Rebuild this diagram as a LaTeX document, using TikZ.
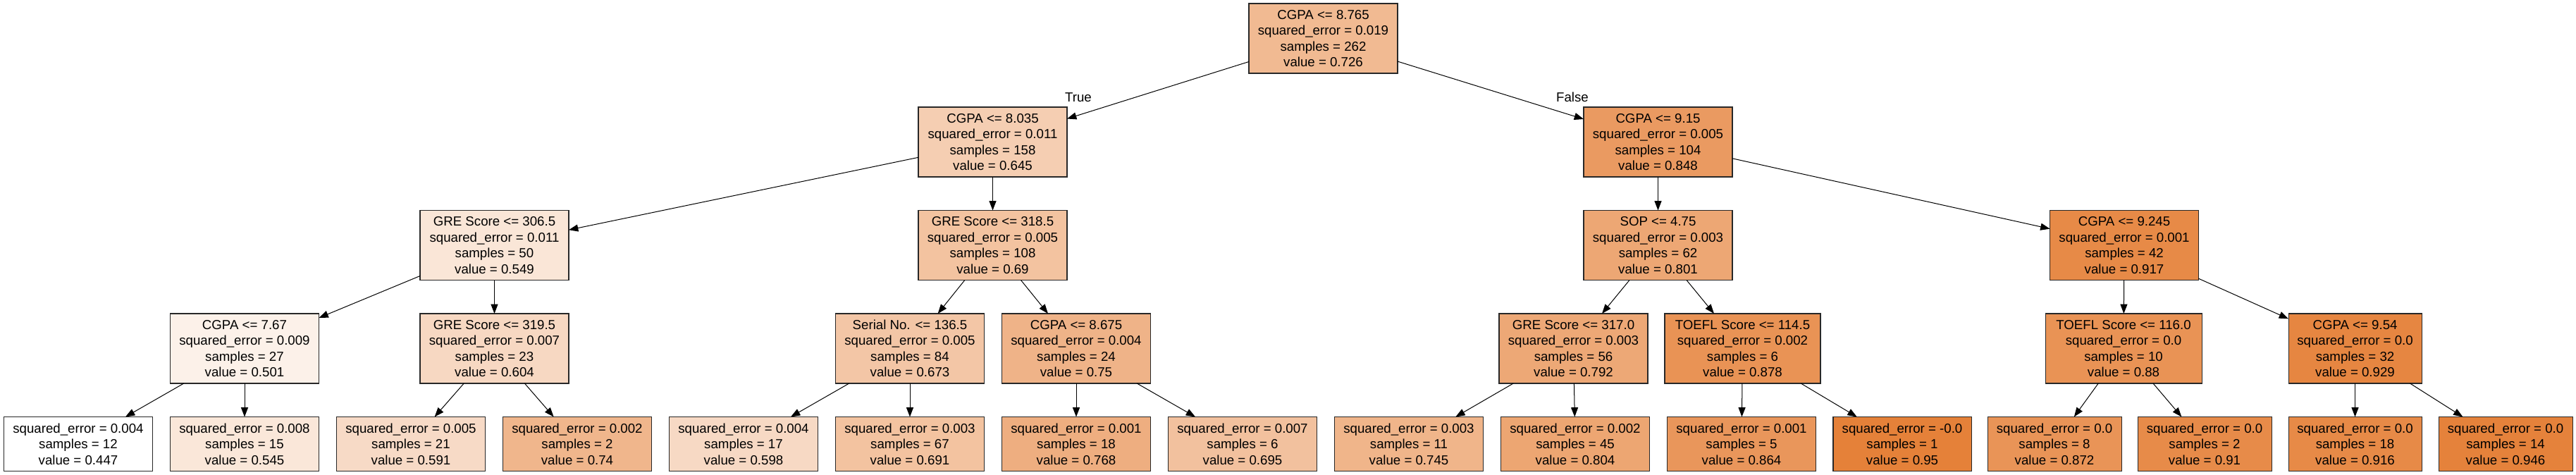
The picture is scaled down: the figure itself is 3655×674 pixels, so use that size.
\documentclass[tikz,border=0pt]{standalone}
\usepackage{fontspec}
\setmainfont{Liberation Sans}
\usetikzlibrary{arrows.meta}
\definecolor{org}{RGB}{229,129,57}
\definecolor{bord}{RGB}{40,40,40}
\tikzset{
  tn/.style={draw=bord, line width=0.8pt, rectangle, align=center, inner sep=0pt, outer sep=0pt,
    minimum height=74.25pt, font=\fontsize{14}{16.8}\selectfont},
  lf/.style={tn, minimum height=57.75pt},
  edge/.style={-{Triangle[length=10pt,width=7.5pt]}, line width=0.75pt, black},
  elab/.style={font=\fontsize{14}{16.8}\selectfont, inner sep=0pt}
}
\newcommand\tnode[7]{\node[#1, minimum width=#5*0.75pt, fill=org!#6!white] (#2) at (#3,#4) {#7};}
\begin{document}
\begin{tikzpicture}[x=0.75pt,y=-0.75pt]
\useasboundingbox (0,0) rectangle (3655,674);
% level 0
\tnode{tn}{n0}{1877.5}{54.5}{211}{55}{CGPA <= 8.765\\squared\_error = 0.019\\samples = 262\\value = 0.726}
% level 1
\tnode{tn}{n1}{1408.5}{201.5}{211}{39}{CGPA <= 8.035\\squared\_error = 0.011\\samples = 158\\value = 0.645}
\tnode{tn}{n16}{2352.5}{201.5}{211}{80}{CGPA <= 9.15\\squared\_error = 0.005\\samples = 104\\value = 0.848}
% level 2
\tnode{tn}{n2}{701.5}{348}{211}{20}{GRE Score <= 306.5\\squared\_error = 0.011\\samples = 50\\value = 0.549}
\tnode{tn}{n9}{1408.5}{348}{211}{48}{GRE Score <= 318.5\\squared\_error = 0.005\\samples = 108\\value = 0.69}
\tnode{tn}{n17}{2352.5}{348}{211}{70}{SOP <= 4.75\\squared\_error = 0.003\\samples = 62\\value = 0.801}
\tnode{tn}{n24}{3014}{348}{211}{93}{CGPA <= 9.245\\squared\_error = 0.001\\samples = 42\\value = 0.917}
% level 3
\tnode{tn}{n3}{347}{494.5}{211}{11}{CGPA <= 7.67\\squared\_error = 0.009\\samples = 27\\value = 0.501}
\tnode{tn}{n6}{701.5}{494.5}{211}{31}{GRE Score <= 319.5\\squared\_error = 0.007\\samples = 23\\value = 0.604}
\tnode{tn}{n10}{1291}{494.5}{211}{45}{Serial No. <= 136.5\\squared\_error = 0.005\\samples = 84\\value = 0.673}
\tnode{tn}{n13}{1527}{494.5}{211}{60}{CGPA <= 8.675\\squared\_error = 0.004\\samples = 24\\value = 0.75}
\tnode{tn}{n18}{2232.5}{494.5}{211}{69}{GRE Score <= 317.0\\squared\_error = 0.003\\samples = 56\\value = 0.792}
\tnode{tn}{n21}{2472.5}{494.5}{221}{86}{TOEFL Score <= 114.5\\squared\_error = 0.002\\samples = 6\\value = 0.878}
\tnode{tn}{n25}{3013}{494.5}{222}{86}{TOEFL Score <= 116.0\\squared\_error = 0.0\\samples = 10\\value = 0.88}
\tnode{tn}{n28}{3341.5}{494.5}{189}{96}{CGPA <= 9.54\\squared\_error = 0.0\\samples = 32\\value = 0.929}
% leaves
\tnode{lf}{n4}{111}{630}{211}{0}{squared\_error = 0.004\\samples = 12\\value = 0.447}
\tnode{lf}{n5}{347}{630}{211}{19}{squared\_error = 0.008\\samples = 15\\value = 0.545}
\tnode{lf}{n7}{583}{630}{211}{29}{squared\_error = 0.005\\samples = 21\\value = 0.591}
\tnode{lf}{n8}{819}{630}{211}{58}{squared\_error = 0.002\\samples = 2\\value = 0.74}
\tnode{lf}{n11}{1055}{630}{211}{30}{squared\_error = 0.004\\samples = 17\\value = 0.598}
\tnode{lf}{n12}{1291}{630}{211}{48}{squared\_error = 0.003\\samples = 67\\value = 0.691}
\tnode{lf}{n14}{1527}{630}{211}{64}{squared\_error = 0.001\\samples = 18\\value = 0.768}
\tnode{lf}{n15}{1763}{630}{211}{49}{squared\_error = 0.007\\samples = 6\\value = 0.695}
\tnode{lf}{n19}{1999}{630}{211}{59}{squared\_error = 0.003\\samples = 11\\value = 0.745}
\tnode{lf}{n20}{2235}{630}{211}{71}{squared\_error = 0.002\\samples = 45\\value = 0.804}
\tnode{lf}{n22}{2471}{630}{211}{83}{squared\_error = 0.001\\samples = 5\\value = 0.864}
\tnode{lf}{n23}{2699}{630}{196}{100}{squared\_error = -0.0\\samples = 1\\value = 0.95}
\tnode{lf}{n26}{2915}{630}{190}{85}{squared\_error = 0.0\\samples = 8\\value = 0.872}
\tnode{lf}{n27}{3128}{630}{190}{92}{squared\_error = 0.0\\samples = 2\\value = 0.91}
\tnode{lf}{n29}{3341.5}{630}{189}{93}{squared\_error = 0.0\\samples = 18\\value = 0.916}
\tnode{lf}{n30}{3555}{630}{190}{99}{squared\_error = 0.0\\samples = 14\\value = 0.946}
% edges
\draw[edge] (n0) -- (n1);
\draw[edge] (n0) -- (n16);
\draw[edge] (n1) -- (n2);
\draw[edge] (n1) -- (n9);
\draw[edge] (n2) -- (n3);
\draw[edge] (n2) -- (n6);
\draw[edge] (n3) -- (n4);
\draw[edge] (n3) -- (n5);
\draw[edge] (n6) -- (n7);
\draw[edge] (n6) -- (n8);
\draw[edge] (n9) -- (n10);
\draw[edge] (n9) -- (n13);
\draw[edge] (n10) -- (n11);
\draw[edge] (n10) -- (n12);
\draw[edge] (n13) -- (n14);
\draw[edge] (n13) -- (n15);
\draw[edge] (n16) -- (n17);
\draw[edge] (n16) -- (n24);
\draw[edge] (n17) -- (n18);
\draw[edge] (n17) -- (n21);
\draw[edge] (n18) -- (n19);
\draw[edge] (n18) -- (n20);
\draw[edge] (n21) -- (n22);
\draw[edge] (n21) -- (n23);
\draw[edge] (n24) -- (n25);
\draw[edge] (n24) -- (n28);
\draw[edge] (n25) -- (n26);
\draw[edge] (n25) -- (n27);
\draw[edge] (n28) -- (n29);
\draw[edge] (n28) -- (n30);
% edge labels
\node[elab] (ltrue) at (1530,138) {True};
\node[elab] (lfalse) at (2231,138) {False};
\end{tikzpicture}
\end{document}
